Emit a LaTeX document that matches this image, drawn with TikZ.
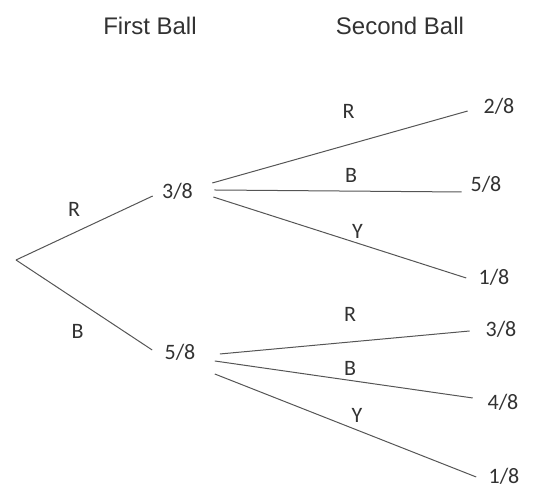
\documentclass[tikz,border=0pt]{standalone}
\usepackage{fontspec}
\setmainfont{Carlito}
\newfontfamily\titlefont{Liberation Sans}
\usepackage{tikz}
\usetikzlibrary{positioning}
\definecolor{branchgray}{RGB}{85,85,85}
\definecolor{textgray}{RGB}{50,50,50}

\begin{document}
\begin{tikzpicture}[x=0.5pt, y=-0.5pt, every node/.style={text=textgray}]
  % Styles
  \tikzstyle{prob} = [font=\fontsize{11}{13}\selectfont, inner xsep=6pt, inner ysep=0pt, text height=7pt, text depth=0pt]
  \tikzstyle{pick} = [font=\fontsize{11}{13}\selectfont, inner sep=0pt]
  \tikzstyle{heading} = [font=\titlefont\fontsize{12}{14}\selectfont]
  \tikzstyle{branch} = [draw=branchgray, line width=0.5pt]

  \useasboundingbox (0,0) rectangle (554,490);

  % Headings
  \node (first) [heading] at (150,26) {First Ball};
  \node (second) [heading] at (400,26) {Second Ball};

  % First ball
  \coordinate (root) at (16,260);
  \node (p38) [prob] at (177.5,192) {3/8};
  \node (p58) [prob] at (180,353) {5/8};

  % Second ball after R
  \node (t28) [prob] at (499,107) {2/8};
  \node (t58) [prob] at (486,185) {5/8};
  \node (t18) [prob] at (494,278) {1/8};

  % Second ball after B
  \node (b38) [prob] at (501,330) {3/8};
  \node (b48) [prob] at (503,403) {4/8};
  \node (b18) [prob] at (504,477) {1/8};

  % Branches
  \draw [branch] (root) -- ([xshift=1.5pt,yshift=-2pt]p38.west);
  \draw [branch] (root) -- ([yshift=1.5pt]p58.west);

  \draw [branch] ([xshift=3.5pt,yshift=4.5pt]p38.east) -- ([xshift=-1.75pt,yshift=-2pt]t28.west);
  \draw [branch] ([xshift=4.5pt,yshift=1pt]p38.east) -- ([xshift=1.75pt,yshift=-3.5pt]t58.west);
  \draw [branch] ([xshift=4pt,yshift=-2.5pt]p38.east) -- (t18.west);

  \draw [branch] ([xshift=6pt,yshift=-0.5pt]p58.east) -- ([xshift=-1.75pt,yshift=-0.5pt]b38.west);
  \draw [branch] ([xshift=3.5pt,yshift=-4pt]p58.east) -- ([xshift=-1.25pt,yshift=2.5pt]b48.west);
  \draw [branch] ([xshift=3.5pt,yshift=-10.5pt]p58.east) -- (b18.west);

  % Colour labels
  \node (fR) [pick] at (74,209) {R};
  \node (fB) [pick] at (77.5,331) {B};
  \node (tR) [pick] at (348.5,111) {R};
  \node (tB) [pick] at (351,175) {B};
  \node (tY) [pick] at (357.5,231) {Y};
  \node (bR) [pick] at (350,314) {R};
  \node (bB) [pick] at (350,368) {B};
  \node (bY) [pick] at (357,415) {Y};
\end{tikzpicture}
\end{document}
